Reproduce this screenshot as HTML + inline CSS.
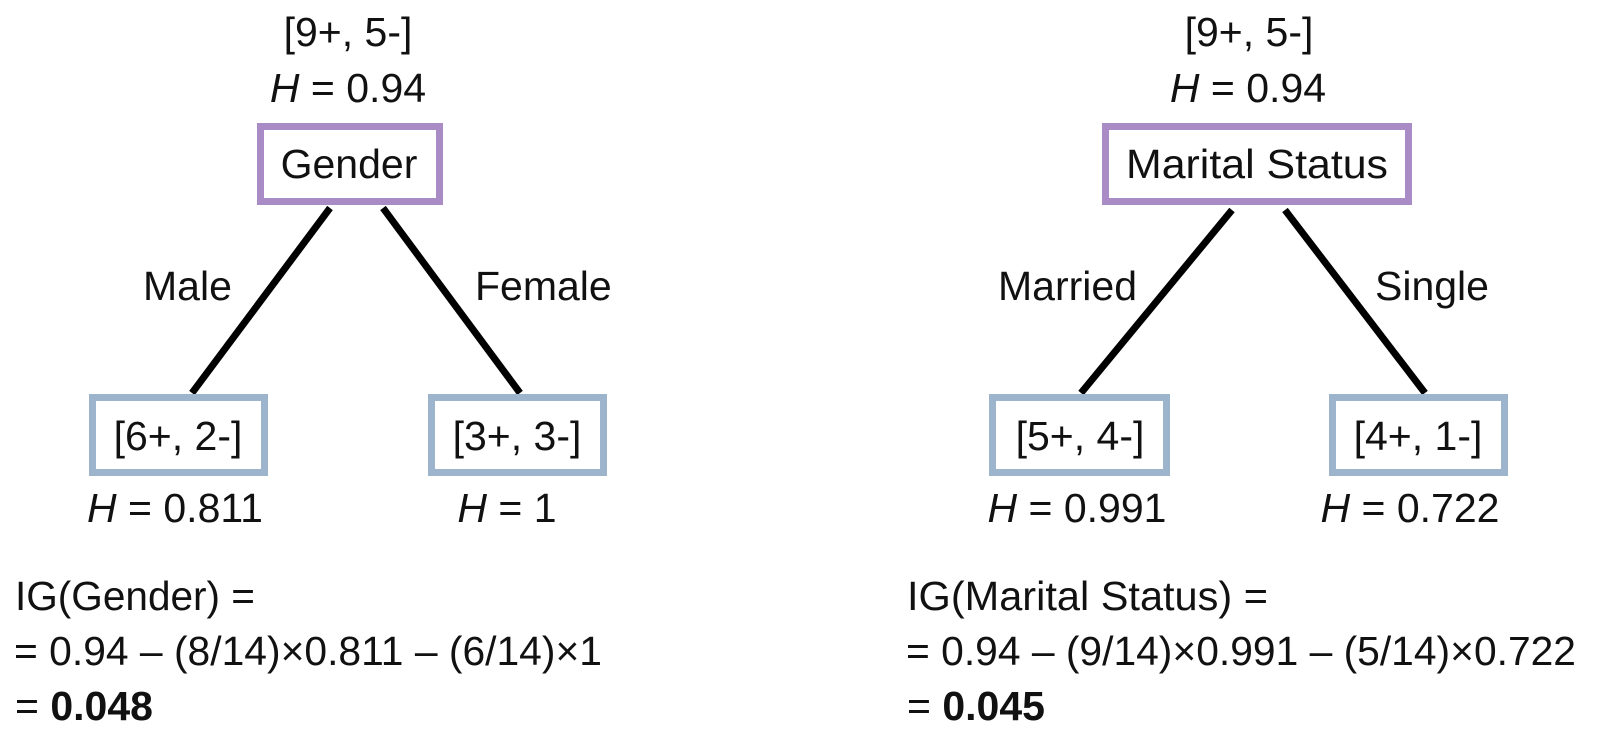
<!DOCTYPE html>
<html><head><meta charset="utf-8"><style>
html,body{margin:0;padding:0;background:#fff;}
svg{display:block;}
text{font-family:"Liberation Sans",sans-serif;font-size:41px;fill:#111;}
.i{font-style:italic;}
</style></head><body>
<svg width="1623" height="742" viewBox="0 0 1623 742">
<g>
 <text x="348" y="46" text-anchor="middle">[9+, 5-]</text>
 <text x="348" y="102" text-anchor="middle"><tspan class="i">H</tspan> = 0.94</text>
 <rect x="260.5" y="126.5" width="179" height="75" fill="#fff" stroke="#a98bc5" stroke-width="7"/>
 <text x="349" y="178" text-anchor="middle">Gender</text>
 <line x1="330" y1="208" x2="192" y2="393" stroke="#000" stroke-width="7"/>
 <line x1="383" y1="208" x2="520" y2="393" stroke="#000" stroke-width="7"/>
 <text x="143" y="300">Male</text>
 <text x="475" y="300">Female</text>
 <rect x="92.5" y="397.5" width="172" height="75" fill="#fff" stroke="#9db5cc" stroke-width="7"/>
 <text x="178" y="450" text-anchor="middle">[6+, 2-]</text>
 <rect x="431.5" y="397.5" width="172" height="75" fill="#fff" stroke="#9db5cc" stroke-width="7"/>
 <text x="517" y="450" text-anchor="middle">[3+, 3-]</text>
 <text x="175" y="522" text-anchor="middle"><tspan class="i">H</tspan> = 0.811</text>
 <text x="507" y="522" text-anchor="middle"><tspan class="i">H</tspan> = 1</text>
 <text x="15" y="610" textLength="240" lengthAdjust="spacingAndGlyphs">IG(Gender) =</text>
 <text x="14" y="665" textLength="588" lengthAdjust="spacingAndGlyphs">= 0.94 – (8/14)×0.811 – (6/14)×1</text>
 <text x="15" y="720">= <tspan font-weight="bold">0.048</tspan></text>
</g>
<g>
 <text x="1249" y="46" text-anchor="middle">[9+, 5-]</text>
 <text x="1248" y="102" text-anchor="middle"><tspan class="i">H</tspan> = 0.94</text>
 <rect x="1105.5" y="126.5" width="303" height="75" fill="#fff" stroke="#a98bc5" stroke-width="7"/>
 <text x="1257" y="178" text-anchor="middle" textLength="262" lengthAdjust="spacingAndGlyphs">Marital Status</text>
 <line x1="1232" y1="210" x2="1081" y2="393" stroke="#000" stroke-width="7"/>
 <line x1="1285" y1="210" x2="1425" y2="393" stroke="#000" stroke-width="7"/>
 <text x="1137" y="300" text-anchor="end">Married</text>
 <text x="1375" y="300">Single</text>
 <rect x="992.5" y="397.5" width="174" height="75" fill="#fff" stroke="#9db5cc" stroke-width="7"/>
 <text x="1080" y="450" text-anchor="middle">[5+, 4-]</text>
 <rect x="1332.5" y="397.5" width="172" height="75" fill="#fff" stroke="#9db5cc" stroke-width="7"/>
 <text x="1418" y="450" text-anchor="middle">[4+, 1-]</text>
 <text x="1077" y="522" text-anchor="middle"><tspan class="i">H</tspan> = 0.991</text>
 <text x="1410" y="522" text-anchor="middle"><tspan class="i">H</tspan> = 0.722</text>
 <text x="907" y="610" textLength="361" lengthAdjust="spacingAndGlyphs">IG(Marital Status) =</text>
 <text x="906" y="665" textLength="670" lengthAdjust="spacingAndGlyphs">= 0.94 – (9/14)×0.991 – (5/14)×0.722</text>
 <text x="907" y="720">= <tspan font-weight="bold">0.045</tspan></text>
</g>
</svg>
</body></html>
